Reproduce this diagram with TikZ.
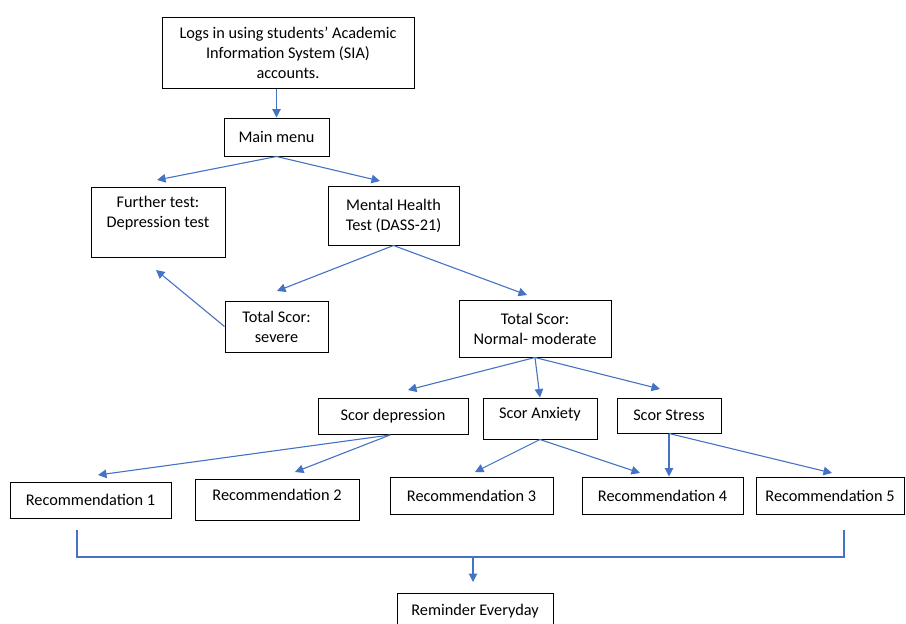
\documentclass[tikz,border=0pt]{standalone}
\usepackage{fontspec}
\setmainfont{Carlito}
\usetikzlibrary{arrows.meta}
\definecolor{arr}{HTML}{4472C4}
\begin{document}
\begin{tikzpicture}[x=1pt,y=-1pt,
  box/.style={draw=black, line width=1pt, inner sep=0pt, align=center, font=\fontsize{16.3}{20}\selectfont},
  txt/.style={inner sep=0pt, align=center, font=\fontsize{16.3}{20}\selectfont},
  con/.style={draw=arr, line width=1.1pt, -{Triangle[length=8.5pt,width=8.5pt]}},
  ln/.style={draw=arr, line width=1.1pt}]
\useasboundingbox (0,0) rectangle (906,624);
\node[box, minimum width=252pt, minimum height=71pt] (top) at (288,52.5) {Logs in using students’ Academic\\Information System (SIA)\\accounts.};
\node[box, minimum width=105pt, minimum height=38pt] (main) at (276.5,137) {Main menu};
\node[box, minimum width=134pt, minimum height=70pt] (further) at (158,222) {};
\node[txt] (furthert) at (158,213) {Further test:\\Depression test};
\node[box, minimum width=131pt, minimum height=59pt] (mh) at (393.5,215.5) {Mental Health\\Test (DASS-21)};
\node[box, minimum width=103pt, minimum height=51pt] (severe) at (276.5,326.5) {Total Scor:\\severe};
\node[box, minimum width=152pt, minimum height=57pt] (normal) at (535,328.5) {Total Scor:\\Normal- moderate};
\node[box, minimum width=150pt, minimum height=36pt] (sdep) at (393,416) {Scor depression};
\node[box, minimum width=114pt, minimum height=41pt] (sanx) at (540,418.5) {};
\node[txt] (sanxt) at (540,414) {Scor Anxiety};
\node[box, minimum width=104pt, minimum height=35pt] (sstr) at (669,415.5) {Scor Stress};
\node[box, minimum width=161pt, minimum height=36pt] (rec1) at (90.5,500) {Recommendation 1};
\node[box, minimum width=164pt, minimum height=41pt] (rec2) at (277,499.5) {};
\node[txt] (rec2t) at (277,495) {Recommendation 2};
\node[box, minimum width=163pt, minimum height=37pt] (rec3) at (471.5,495.5) {Recommendation 3};
\node[box, minimum width=161pt, minimum height=37pt] (rec4) at (662.5,495.5) {Recommendation 4};
\node[box, minimum width=148pt, minimum height=37pt] (rec5) at (830,495.5) {Recommendation 5};
\node[box, minimum width=156pt, minimum height=37pt] (rem) at (475,611.5) {Reminder Everyday};
% arrow targets
\coordinate (t1) at (157,180);
\coordinate (t2) at (380,181);
\coordinate (t3) at (277,291);
\coordinate (t4) at (527,295);
\coordinate (t5) at (156,270);
\coordinate (t6) at (408,390);
\coordinate (t7) at (660,389);
\coordinate (s8) at (390,435);
\coordinate (t8) at (98,475);
\coordinate (t9) at (295,472);
\coordinate (t10) at (475,472);
\coordinate (t11) at (640,473);
\coordinate (t12) at (832,473);
\coordinate (b1) at (77,530);
\coordinate (b2) at (77,557);
\coordinate (b3) at (844,557);
\coordinate (b4) at (844,530);
\coordinate (b5) at (473,557);
\coordinate (b6) at (473,582);
\draw[con] (main.north |- top.south) -- (main.north);
\draw[con] (main.south) -- (t1);
\draw[con] (main.south) -- (t2);
\draw[con] (mh.south) -- (t3);
\draw[con] (mh.south) -- (t4);
\draw[con] (severe.west) -- (t5);
\draw[con] (normal.south) -- (t6);
\draw[con] (normal.south) -- (sanx.north);
\draw[con] (normal.south) -- (t7);
\draw[con] (s8) -- (t8);
\draw[con] (s8) -- (t9);
\draw[con] (sanx.south) -- (t10);
\draw[con] (sanx.south) -- (t11);
\draw[con] (sstr.south) -- (sstr.south |- rec4.north);
\draw[con] (sstr.south) -- (t12);
\draw[ln] (b1) -- (b2) -- (b3) -- (b4);
\draw[con] (b5) -- (b6);
\end{tikzpicture}
\end{document}
